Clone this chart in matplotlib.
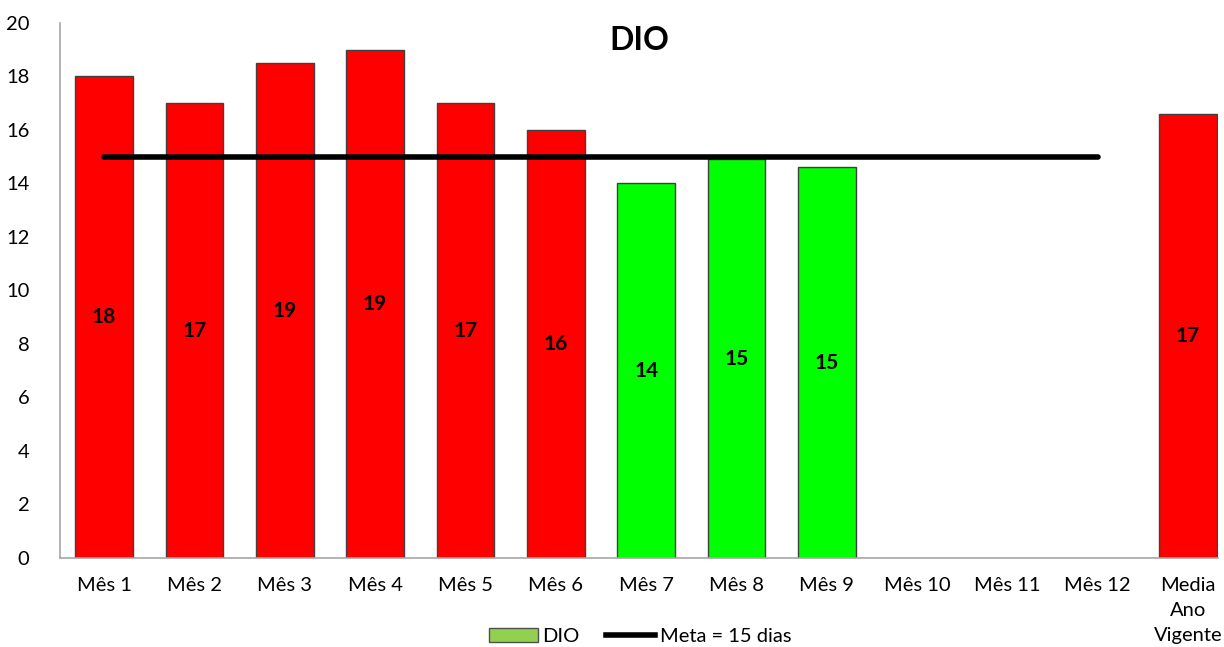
import matplotlib
matplotlib.use("Agg")
import matplotlib.pyplot as plt
from matplotlib.patches import Patch
from matplotlib.lines import Line2D

plt.rcParams['font.family'] = ['Lato', 'DejaVu Sans']

categories = ["Mês 1", "Mês 2", "Mês 3", "Mês 4", "Mês 5", "Mês 6", "Mês 7",
              "Mês 8", "Mês 9", "Mês 10", "Mês 11", "Mês 12", "Media\nAno\nVigente"]
values = [18, 17, 18.5, 19, 17, 16, 14, 14.9, 14.6, None, None, None, 16.6]
labels = ["18", "17", "19", "19", "17", "16", "14", "15", "15", "", "", "", "17"]
colors = ["#FF0000", "#FF0000", "#FF0000", "#FF0000", "#FF0000", "#FF0000",
          "#00FF00", "#00FF00", "#00FF00", "#FF0000", "#FF0000", "#FF0000", "#FF0000"]
meta = 15
meta_span = (0, 11)  # Mês 1 .. Mês 12

fig = plt.figure(figsize=(12.24, 6.47), dpi=100)
ax = fig.add_axes([0.049, 0.1376, 0.946, 0.827])

x = list(range(len(categories)))
for i, (v, c, lab) in enumerate(zip(values, colors, labels)):
    if v is None:
        continue
    ax.bar(i, v, width=0.64, color=c, edgecolor="#404040", linewidth=1.0, zorder=2)
    ax.text(i, v / 2, lab, ha="center", va="center", fontsize=15,
            fontweight="bold", zorder=4)

ax.plot([meta_span[0], meta_span[1]], [meta, meta], color="black", linewidth=4,
        solid_capstyle="round", zorder=3)

ax.set_xlim(-0.49, 12.33)
ax.set_ylim(0, 20)
ax.set_yticks(range(0, 21, 2))
ax.set_xticks(x)
ax.set_xticklabels(categories, fontsize=14.5, va="top", linespacing=1.55)
ax.tick_params(axis="y", labelsize=14.5, length=0, pad=22)
ax.tick_params(axis="x", length=0, pad=14)
for s in ["top", "right"]:
    ax.spines[s].set_visible(False)
for s in ["left", "bottom"]:
    ax.spines[s].set_color("#A6A6A6")
    ax.spines[s].set_linewidth(1.2)

ax.text(0.5, 0.994, "DIO", transform=ax.transAxes, ha="center", va="top",
        fontsize=23, fontweight="bold")

handles = [Patch(facecolor="#92D050", edgecolor="#505050", label="DIO"),
           Line2D([0], [0], color="black", linewidth=4, label="Meta = 15 dias")]
fig.legend(handles=handles, loc="center", bbox_to_anchor=(0.523, 0.016), ncol=2,
           frameon=False, fontsize=14.5, handlelength=2.4, handletextpad=0.25,
           columnspacing=1.3, borderaxespad=0)

fig.savefig("out.png", dpi=100)
